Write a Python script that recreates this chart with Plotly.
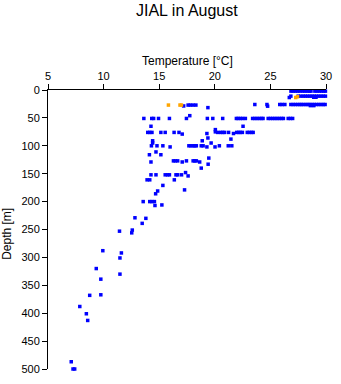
import plotly.graph_objects as go

# Blue observations: temperature [°C] and depth [m], read row by row
blue_temp = [
    # ~2 m
    26.85, 27.05, 27.25, 27.45, 27.65, 27.9, 28.1, 28.3, 28.5, 28.65, 29.0, 29.2, 29.4, 29.6, 29.8, 29.95,
    # ~11 m
    26.7, 26.84, 27.5, 27.73, 27.95, 28.15, 28.35, 28.55, 28.75, 28.95, 29.15, 29.35, 29.55, 29.75, 29.95, 28.9, 29.1,
    # ~26 m
    17.2, 17.6, 17.8, 18.05, 18.3, 19.38, 23.6, 24.69, 24.75, 25.84, 26.05, 26.3, 26.84, 27.05, 27.25, 27.45,
    27.65, 27.8, 28.0, 28.2, 28.38, 28.55, 28.75, 28.95, 29.15, 29.35, 29.55, 29.75, 29.92, 28.6, 28.9,
    # ~51 m
    13.62, 14.33, 14.5, 14.94, 15.92, 17.45, 17.75, 19.33, 19.82, 20.71, 21.94, 22.1, 22.3, 22.5, 22.75,
    23.4, 23.6, 23.8, 24.0, 24.2, 24.34, 24.8, 25.0, 25.2, 25.4, 25.6, 25.8, 26.0, 26.17, 26.6, 26.8, 27.0,
    # ~65 m
    14.26, 22.54,
    # ~76 m
    13.97, 14.15, 14.35, 15.15, 15.54, 16.34, 16.78, 17.07, 19.29, 20.05, 20.05, 20.26, 20.53, 20.71, 20.88,
    21.24, 21.68, 21.97, 22.15, 22.3, 22.48, 22.92, 23.1, 23.3, 23.45,
    # ~86-95 m
    19.38, 21.45, 14.41, 18.87, 14.41, 19.67,
    # ~100 m
    14.30, 14.80, 15.33, 15.98, 17.67, 17.85, 18.05, 18.2, 18.34, 18.78, 18.95, 19.29, 20.02, 20.41, 21.21, 21.53,
    # ~111-129 m
    14.71, 14.12, 15.15, 19.46, 16.28, 16.45, 16.66, 17.07, 17.45, 18.05, 18.2, 18.34, 18.64, 14.26,
    # ~133-154 m
    19.40, 18.78, 17.37, 14.26, 14.71, 15.54, 15.75, 15.92, 16.51, 16.66, 17.01, 17.60,
    # ~161-207 m
    13.91, 14.15, 16.36, 15.33, 17.28, 14.86, 14.68, 13.56, 14.15, 14.35, 14.57, 14.62, 15.24,
    # deep
    12.82, 13.80, 13.47, 11.43, 12.58, 12.53, 11.6, 9.93, 11.47, 9.34, 11.47, 9.75, 9.75, 8.75,
    7.86, 8.45, 8.57, 7.09, 7.25, 7.4,
]
blue_depth = [
    2, 2, 2, 2, 2, 2, 2, 2, 2, 2, 2, 2, 2, 2, 2, 2,
    13.5, 11, 11, 11, 11, 11, 11, 11, 11, 11, 11, 11, 11, 11, 11, 13, 13,
    28.6, 27, 27, 27, 27, 31.6, 26, 26, 29, 26, 26, 26, 26, 26, 26, 26,
    26, 26, 26, 26, 26, 26, 26, 26, 26, 26, 26, 26, 26, 28, 28,
    51, 51, 51, 51, 51, 51, 46, 51, 51, 51, 51, 51, 51, 51, 51,
    51, 51, 51, 51, 51, 51, 51, 51, 51, 51, 51, 51, 51, 51, 51, 51, 51,
    65, 65,
    76, 76, 76, 76, 76, 76, 76, 79, 78, 71, 75, 76, 76, 76, 76,
    76, 78, 76, 76, 76, 76, 76, 76, 76, 76,
    86, 88, 91, 91, 95, 95,
    100, 100, 100, 102, 100, 100, 100, 100, 100, 100, 100, 102, 102, 100, 100, 100,
    111, 116, 116, 122, 127, 127, 127, 129, 127, 127, 127, 127, 129, 129,
    133, 140, 148, 152, 152, 152, 152, 152, 152, 152, 152, 154,
    161, 161, 161, 171, 179, 181, 186, 200, 200, 200, 200, 207, 206,
    229, 230, 239, 253, 251, 256, 292, 288, 301, 320, 330, 339, 367, 368,
    388, 401, 413, 487, 500, 500,
]

# Orange observations
orange_temp = [15.83, 16.87, 17.0, 27.28, 27.44]
orange_depth = [27, 27, 27, 13.5, 12]

x_ticks = [5, 10, 15, 20, 25, 30]
y_ticks = [0, 50, 100, 150, 200, 250, 300, 350, 400, 450, 500]

FONT = "Liberation Sans, Arial, sans-serif"

fig = go.Figure()
fig.add_trace(go.Scatter(
    x=blue_temp, y=blue_depth, mode="markers",
    marker=dict(symbol="square", size=3.5, color="#0000ff", line=dict(width=0)),
    cliponaxis=False, showlegend=False,
))
fig.add_trace(go.Scatter(
    x=orange_temp, y=orange_depth, mode="markers",
    marker=dict(symbol="square", size=3.5, color="#ffa500", line=dict(width=0)),
    cliponaxis=False, showlegend=False,
))

fig.update_layout(
    width=341, height=384,
    margin=dict(l=48, r=11, t=90, b=9),
    paper_bgcolor="white", plot_bgcolor="white",
    font=dict(family=FONT, size=11, color="black"),
    showlegend=False,
    annotations=[
        dict(text="JIAL in August", xref="paper", yref="paper", x=0.5, y=1 + (90 - 9) / 285,
             xanchor="center", yanchor="middle", showarrow=False, font=dict(size=16, family=FONT)),
        dict(text="Temperature [°C]", xref="paper", yref="paper", x=0.5, y=1 + (90 - 60.5) / 285,
             xanchor="center", yanchor="middle", showarrow=False, font=dict(size=12, family=FONT)),
        dict(text="Depth [m]", xref="paper", yref="paper", x=(6 - 47.7) / 282.3, y=(375 - 237) / 285,
             xanchor="center", yanchor="middle", showarrow=False, textangle=-90,
             font=dict(size=12, family=FONT)),
    ],
)
fig.update_xaxes(
    side="top", range=[5, 30], tickvals=x_ticks, ticks="outside", ticklen=5, tickcolor="black",
    showline=True, linecolor="black", linewidth=1, showgrid=False, zeroline=False,
    tickfont=dict(size=11, family=FONT),
)
fig.update_yaxes(
    range=[500, 0], tickvals=y_ticks, ticks="outside", ticklen=5, tickcolor="black",
    showline=True, linecolor="black", linewidth=1, showgrid=False, zeroline=False,
    tickfont=dict(size=11, family=FONT),
)

fig.write_html("out.html")
